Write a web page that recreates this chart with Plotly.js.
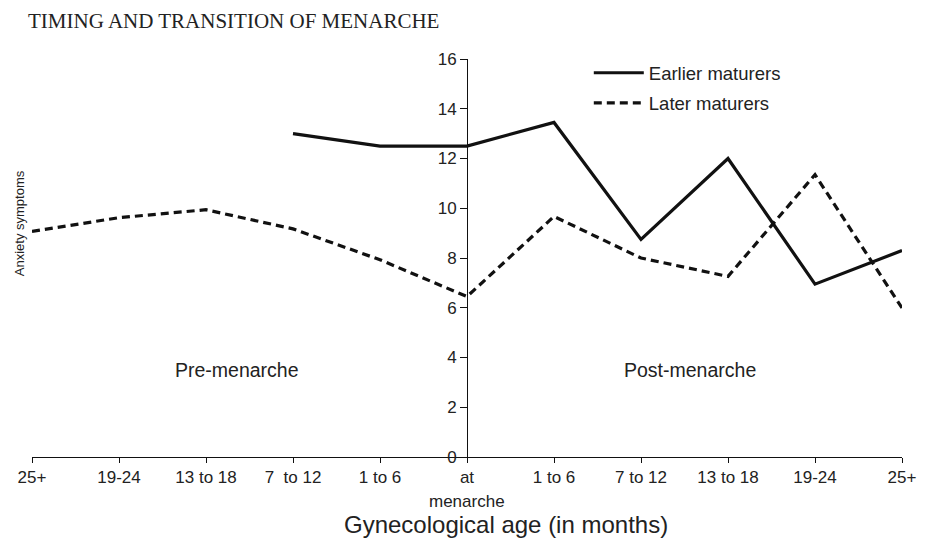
<!DOCTYPE html>
<html>
<head>
<meta charset="utf-8">
<script src="https://cdn.plot.ly/plotly-3.0.1.min.js"></script>
<style>html,body{margin:0;padding:0;background:#fff;}#chart{width:933px;height:544px;}</style>
</head>
<body>
<div id="chart"></div>
<script>
// Gynecological age categories (pre-menarche on the left, post-menarche on the right)
const tickLabels = ["25+", "19-24", "13 to 18", "7\u00a0 to 12", "1 to 6", "at", "1 to 6", "7 to 12", "13 to 18", "19-24", "25+"];
const menarcheLabel = "menarche"; // second line of the "at menarche" tick label
// Anxiety symptoms
const earlierMaturers = [null, null, null, 13.0, 12.5, 12.5, 13.45, 8.75, 12.0, 6.95, 8.3];
const laterMaturers   = [9.07, 9.62, 9.94, 9.17, 7.93, 6.45, 9.67, 8.0, 7.26, 11.35, 5.99];
const yTicks = [0, 2, 4, 6, 8, 10, 12, 14, 16];

const xIdx = tickLabels.map((_, i) => i);
const sans = "Liberation Sans, Arial, Helvetica, sans-serif";
const txt = "#222";

const traces = [
  {x: xIdx, y: earlierMaturers, name: "Earlier maturers", type: "scatter", mode: "lines", legendgroup: "a",
   line: {color: "#111", width: 3.2}, connectgaps: false},
  {x: xIdx, y: laterMaturers, name: "Later maturers", type: "scatter", mode: "lines", legendgroup: "b",
   line: {color: "#111", width: 3.2, dash: "8px,5px"}}
];

const layout = {
  width: 933, height: 544,
  margin: {l: 32, r: 31, t: 59, b: 87},
  paper_bgcolor: "#fff", plot_bgcolor: "#fff",
  title: {text: "TIMING AND TRANSITION OF MENARCHE", font: {family: "Liberation Serif, Times New Roman, serif", size: 21, color: txt},
          xref: "container", x: 28/933, xanchor: "left", yref: "container", y: 1 - 21/544, yanchor: "middle"},
  showlegend: true,
  legend: {x: 0.64, y: 1.012, xanchor: "left", yanchor: "top", font: {family: sans, size: 18.5, color: txt},
           bgcolor: "rgba(0,0,0,0)", itemwidth: 50, traceorder: "grouped", tracegroupgap: 3},
  xaxis: {range: [0, 10], tickvals: xIdx, ticktext: tickLabels, showline: true, linecolor: "#111", linewidth: 1,
          ticks: "outside", ticklen: 5, tickcolor: "#111", showgrid: false, zeroline: false,
          tickfont: {family: sans, size: 17, color: txt}, fixedrange: true},
  yaxis: {range: [0, 16], tickvals: yTicks, anchor: "free", position: 0.5, showline: true, linecolor: "#111", linewidth: 1,
          ticks: "outside", ticklen: 7, tickcolor: "#111", showgrid: false, zeroline: false,
          tickfont: {family: sans, size: 17, color: txt}, fixedrange: true},
  annotations: [
    {text: menarcheLabel, xref: "x", yref: "paper", x: 5, y: (457.3 - 502) / 398, showarrow: false,
     font: {family: sans, size: 17, color: txt}, xanchor: "center", yanchor: "middle"},
    {text: "Anxiety symptoms", xref: "paper", yref: "paper", x: (19.5 - 32) / 870, y: (457.3 - 224) / 398,
     textangle: -90, showarrow: false, font: {family: sans, size: 13, color: txt}, xanchor: "center", yanchor: "middle"},
    {text: "Gynecological age (in months)", xref: "paper", yref: "paper", x: (506 - 32) / 870, y: (457.3 - 525) / 398,
     showarrow: false, font: {family: sans, size: 24, color: txt}, xanchor: "center", yanchor: "middle"},
    {text: "Pre-menarche", xref: "x", yref: "y", x: 2.36, y: 3.5, showarrow: false,
     font: {family: sans, size: 19.5, color: txt}, xanchor: "center", yanchor: "middle"},
    {text: "Post-menarche", xref: "x", yref: "y", x: 7.56, y: 3.5, showarrow: false,
     font: {family: sans, size: 19.5, color: txt}, xanchor: "center", yanchor: "middle"}
  ]
};

Plotly.newPlot("chart", traces, layout, {displayModeBar: false, staticPlot: true});
</script>
</body>
</html>
